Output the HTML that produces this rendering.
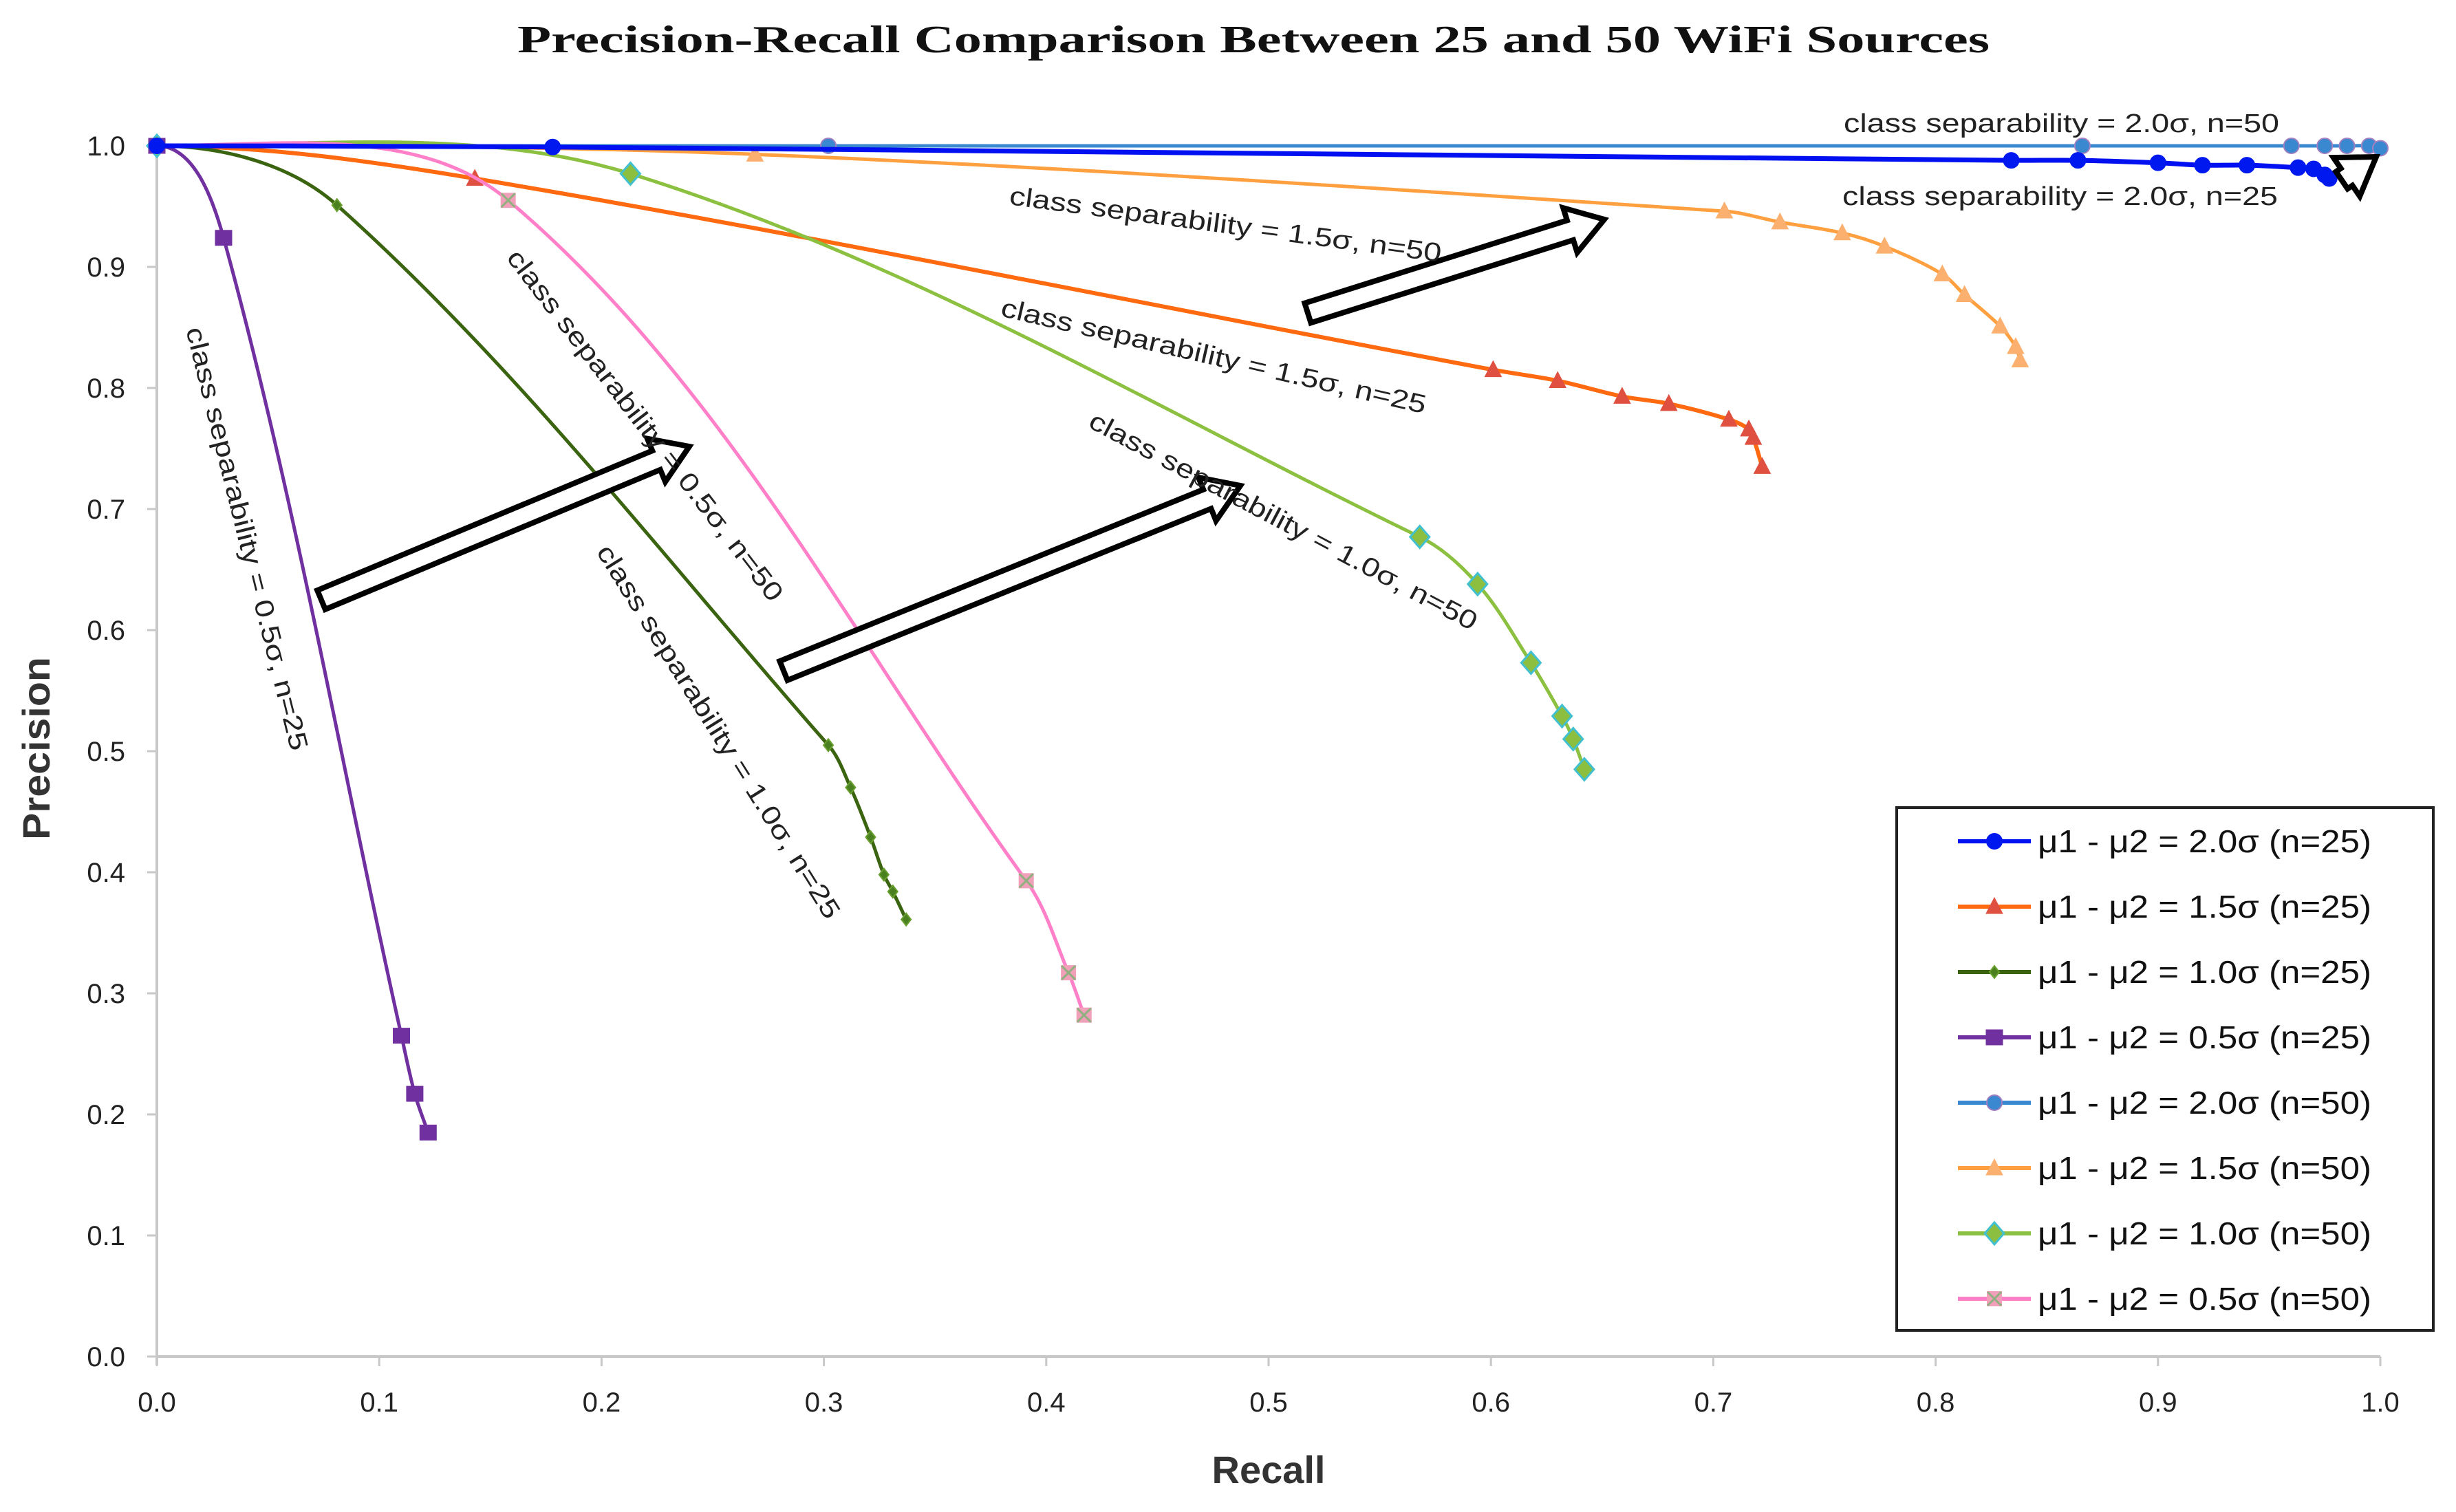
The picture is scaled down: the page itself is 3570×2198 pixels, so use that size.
<!DOCTYPE html>
<html><head><meta charset="utf-8"><style>
html,body{margin:0;padding:0;background:#fff}
svg{display:block}
</style></head><body>
<svg id="chart" xmlns="http://www.w3.org/2000/svg" width="3570" height="2198" viewBox="0 0 3570 2198">
<rect x="0" y="0" width="3570" height="2198" fill="#fff"/>
<text x="1822" y="76" text-anchor="middle" font-family="Liberation Serif, serif" font-weight="bold" font-size="56" textLength="2140" lengthAdjust="spacingAndGlyphs" fill="#111">Precision-Recall Comparison Between 25 and 50 WiFi Sources</text>
<g id="axes"></g>
<g id="series"></g>
<g id="annot"></g>
<g id="legend"></g>
</svg>
<script>
// ---- data ----
const xTicks = [0,0.1,0.2,0.3,0.4,0.5,0.6,0.7,0.8,0.9,1.0];
const yTicks = [0,0.1,0.2,0.3,0.4,0.5,0.6,0.7,0.8,0.9,1.0];
const seriesNames = ["μ1 - μ2 = 2.0σ (n=25)","μ1 - μ2 = 1.5σ (n=25)","μ1 - μ2 = 1.0σ (n=25)","μ1 - μ2 = 0.5σ (n=25)","μ1 - μ2 = 2.0σ (n=50)","μ1 - μ2 = 1.5σ (n=50)","μ1 - μ2 = 1.0σ (n=50)","μ1 - μ2 = 0.5σ (n=50)"];
const rec20_25 = [0,0.178,0.834,0.864,0.9,0.92,0.94,0.963,0.97,0.975,0.977];
const pre20_25 = [1,0.999,0.988,0.988,0.986,0.984,0.984,0.982,0.981,0.976,0.973];
const rec15_25 = [0,0.143,0.601,0.63,0.659,0.68,0.707,0.716,0.718,0.722];
const pre15_25 = [1,0.973,0.815,0.806,0.793,0.787,0.774,0.766,0.759,0.735];
const rec10_25 = [0,0.081,0.302,0.312,0.321,0.327,0.331,0.337];
const pre10_25 = [1,0.951,0.505,0.470,0.429,0.398,0.384,0.361];
const rec05_25 = [0,0.030,0.110,0.116,0.122];
const pre05_25 = [1,0.924,0.265,0.217,0.185];
const rec20_50 = [0,0.302,0.866,0.96,0.975,0.985,0.995,1.0];
const pre20_50 = [1,1.0,1.0,1.0,1.0,1.0,1.0,0.998];
const rec15_50 = [0,0.269,0.705,0.73,0.758,0.777,0.803,0.813,0.829,0.836,0.838];
const pre15_50 = [1,0.993,0.946,0.937,0.928,0.917,0.894,0.877,0.851,0.834,0.823];
const rec10_50 = [0,0.213,0.568,0.594,0.618,0.632,0.637,0.642];
const pre10_50 = [1,0.977,0.677,0.638,0.573,0.529,0.510,0.485];
const rec05_50 = [0,0.158,0.391,0.410,0.417];
const pre05_50 = [1,0.955,0.393,0.317,0.282];

const NS="http://www.w3.org/2000/svg";
const X0=228,X1=3460,Y0=1972,Y1=212;
function X(v){return X0+v*(X1-X0);}
function Y(v){return Y0-v*(Y0-Y1);}
function mk(tag,attrs,parent){const e=document.createElementNS(NS,tag);for(const k in attrs)e.setAttribute(k,attrs[k]);parent.appendChild(e);return e;}

const axes=document.getElementById('axes');
let e;
e=mk('line',{x1:X0,y1:Y0,x2:X1,y2:Y0,stroke:'#c8c8c8','stroke-width':4},axes);


e=mk('line',{x1:X0,y1:Y0+12,x2:X0,y2:Y1,stroke:'#c8c8c8','stroke-width':4},axes);


xTicks.forEach(t=>{
  const l=mk('line',{x1:X(t),y1:Y0,x2:X(t),y2:Y0+14,stroke:'#c8c8c8','stroke-width':3},axes);
  
  
  const tx=mk('text',{x:X(t),y:2052,'text-anchor':'middle','font-family':'Liberation Sans, sans-serif','font-size':40,fill:'#222'},axes);
  tx.textContent=t.toFixed(1);
  
  
});
yTicks.forEach(t=>{
  const l=mk('line',{x1:X0-14,y1:Y(t),x2:X0,y2:Y(t),stroke:'#c8c8c8','stroke-width':3},axes);
  
  
  const tx=mk('text',{x:182,y:Y(t)+14,'text-anchor':'end','font-family':'Liberation Sans, sans-serif','font-size':40,fill:'#222'},axes);
  tx.textContent=t.toFixed(1);
  
  
});
e=mk('text',{x:1844,y:2156,'text-anchor':'middle','font-family':'Liberation Sans, sans-serif','font-weight':'bold','font-size':56,fill:'#333'},axes);
e.textContent='Recall';


e=mk('text',{x:0,y:0,'text-anchor':'middle','font-family':'Liberation Sans, sans-serif','font-weight':'bold','font-size':56,fill:'#333',transform:'translate(72,1088) rotate(-90)',textLength:266,lengthAdjust:'spacingAndGlyphs'},axes);
e.textContent='Precision';



function smoothPath(pts){
  const n=pts.length;
  const T=pts.map((p,i)=>{
    if(i===0) return [1,0];
    const a=pts[Math.max(0,i-1)],b=pts[Math.min(n-1,i+1)];
    let dx=b[0]-a[0],dy=b[1]-a[1];const L=Math.hypot(dx,dy)||1;
    return [dx/L,dy/L];
  });
  let d='M'+pts[0][0]+','+pts[0][1];
  for(let i=0;i<n-1;i++){
    const p1=pts[i],p2=pts[i+1];
    const len=Math.hypot(p2[0]-p1[0],p2[1]-p1[1])/3;
    const c1=[p1[0]+T[i][0]*len,p1[1]+T[i][1]*len];
    const c2=[p2[0]-T[i+1][0]*len,p2[1]-T[i+1][1]*len];
    d+=' C'+c1[0]+','+c1[1]+' '+c2[0]+','+c2[1]+' '+p2[0]+','+p2[1];
  }
  return d;
}
function marker(type,x,y,fill,stroke,parent){
  let m;
  if(type==='circle') m=mk('circle',{cx:x,cy:y,r:11,fill:fill,stroke:stroke,'stroke-width':2},parent);
  else if(type==='tri') m=mk('polygon',{points:`${x},${y-13} ${x+12},${y+10} ${x-12},${y+10}`,fill:fill,stroke:stroke,'stroke-width':1},parent);
  else if(type==='smalldiamond') m=mk('polygon',{points:`${x},${y-9} ${x+7},${y} ${x},${y+9} ${x-7},${y}`,fill:fill,stroke:stroke,'stroke-width':2},parent);
  else if(type==='diamond') m=mk('polygon',{points:`${x},${y-16} ${x+14},${y} ${x},${y+16} ${x-14},${y}`,fill:fill,stroke:stroke,'stroke-width':3},parent);
  else if(type==='square') m=mk('rect',{x:x-12,y:y-11,width:24,height:22,fill:fill,stroke:stroke,'stroke-width':1},parent);
  else if(type==='xsquare'){
    m=mk('g',{},parent);
    mk('rect',{x:x-11,y:y-11,width:22,height:22,fill:fill},m);
    mk('path',{d:`M${x-10},${y-10}L${x+10},${y+10}M${x+10},${y-10}L${x-10},${y+10}`,stroke:stroke,'stroke-width':3},m);
  }
  return m;
}
const seriesLayer=document.getElementById('series');
const seriesDefs=[
  {r:rec15_50,p:pre15_50,line:'#ffa040',w:5,mt:'tri',mf:'#fbb070',ms:'#fbb070',name:'series-1-5sigma-n50'},
  {r:rec15_25,p:pre15_25,line:'#ff6a10',w:6,mt:'tri',mf:'#e05040',ms:'#e05040',name:'series-1-5sigma-n25'},
  {r:rec10_50,p:pre10_50,line:'#8cc040',w:5,mt:'diamond',mf:'#8cbf40',ms:'#40c0d0',name:'series-1-0sigma-n50'},
  {r:rec10_25,p:pre10_25,line:'#3a6410',w:5,mt:'smalldiamond',mf:'#4a8020',ms:'#6aa030',name:'series-1-0sigma-n25'},
  {r:rec05_50,p:pre05_50,line:'#ff80c8',w:5,mt:'xsquare',mf:'#f0a0b8',ms:'#90b080',name:'series-0-5sigma-n50'},
  {r:rec05_25,p:pre05_25,line:'#7030a0',w:5,mt:'square',mf:'#7030a0',ms:'#7030a0',name:'series-0-5sigma-n25'},
  {r:rec20_50,p:pre20_50,line:'#3a88d0',w:5,mt:'circle',mf:'#3a88d0',ms:'#a080c0',name:'series-2-0sigma-n50'},
  {r:rec20_25,p:pre20_25,line:'#0010f0',w:7,mt:'circle',mf:'#0018f0',ms:'#0018f0',name:'series-2-0sigma-n25'}
];
seriesDefs.forEach(s=>{
  const g=mk('g',{},seriesLayer);
  
  
  const pts=s.r.map((v,i)=>[X(v),Y(s.p[i])]);
  const path=mk('path',{d:smoothPath(pts),fill:'none',stroke:s.line,'stroke-width':s.w,'stroke-linejoin':'round'},g);
  
  
  pts.forEach(pt=>{
    const m=marker(s.mt,pt[0],pt[1],s.mf,s.ms,g);
    
    
  });
});

// annotations
const annot=document.getElementById('annot');
function arrow(tx,ty,hx,hy,name){
  const dx=hx-tx,dy=hy-ty,L=Math.hypot(dx,dy),a=Math.atan2(dy,dx)*180/Math.PI;
  const hw=15,HW=34,HL=52;
  const pts=`0,${-hw} ${L-HL},${-hw} ${L-HL},${-HW} ${L},0 ${L-HL},${HW} ${L-HL},${hw} 0,${hw}`;
  const p=mk('polygon',{points:pts,fill:'#fff',stroke:'#000','stroke-width':8,'stroke-linejoin':'miter',transform:`translate(${tx},${ty}) rotate(${a})`},annot);
  
  
}
arrow(467,872,1002,649,'arrow-0-5sigma');
arrow(1139,975,1803,706,'arrow-1-0sigma');
arrow(1901,455,2332,319,'arrow-1-5sigma');
arrow(3404,262,3454,228,'arrow-2-0sigma');

function label(txt,x,y,rot,name,len){
  const t=mk('text',{x:0,y:0,'font-family':'Liberation Sans, sans-serif','font-size':38,fill:'#222',transform:`translate(${x},${y}) rotate(${rot})`,textLength:len,lengthAdjust:'spacingAndGlyphs'},annot);
  t.textContent=txt;
  
  
}
label('class separability = 2.0σ, n=50',2680,192,0,'label-2-0sigma-n50',633);
label('class separability = 2.0σ, n=25',2678,298,0,'label-2-0sigma-n25',633);
label('class separability = 1.5σ, n=50',1466,297,7.6,'label-1-5sigma-n50',633);
label('class separability = 1.5σ, n=25',1453,459,13,'label-1-5sigma-n25',633);
label('class separability = 1.0σ, n=50',1580,620,28,'label-1-0sigma-n50',633);
label('class separability = 0.5σ, n=50',735,375,52.5,'label-0-5sigma-n50',633);
label('class separability = 1.0σ, n=25',866,802,58,'label-1-0sigma-n25',633);
label('class separability = 0.5σ, n=25',270,479,76,'label-0-5sigma-n25',633);

// legend
const lg=document.getElementById('legend');
e=mk('rect',{x:2757,y:1174,width:780,height:760,fill:'#fff',stroke:'#222','stroke-width':4},lg);


const legOrder=[7,1,3,5,6,0,2,4];
seriesNames.forEach((n,i)=>{
  const s=seriesDefs[legOrder[i]];
  const y=1223+i*95;
  const g=mk('g',{},lg);
  
  
  mk('line',{x1:2846,y1:y,x2:2952,y2:y,stroke:s.line,'stroke-width':6},g);
  marker(s.mt,2899,y,s.mf,s.ms,g);
  const t=mk('text',{x:2962,y:y+16,'font-family':'Liberation Sans, sans-serif','font-size':46,fill:'#111',textLength:485,lengthAdjust:'spacingAndGlyphs'},g);
  t.textContent=n;
});
</script>
</body></html>
